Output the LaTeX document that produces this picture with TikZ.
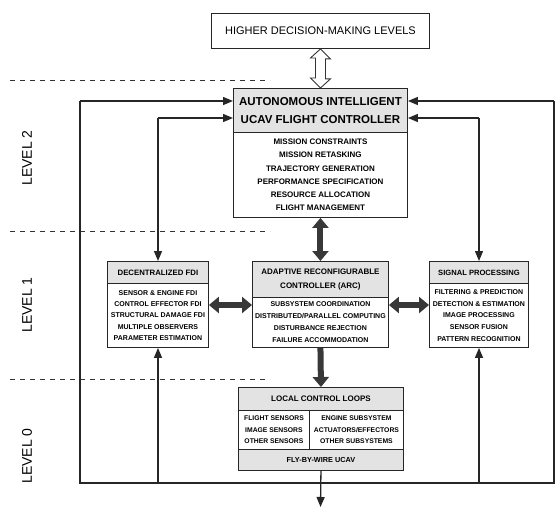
\documentclass[tikz,border=0pt]{standalone}
\usepackage{fontspec}
\setmainfont{Liberation Sans}
\usetikzlibrary{arrows.meta,calc}
\begin{document}
\begin{tikzpicture}[x=1pt,y=-1pt,
  box/.style={draw=black!85,line width=0.9pt,inner sep=0pt,anchor=north west,align=center},
  hdr/.style={box,fill=gray!22},
  wire/.style={draw=black!85,line width=1.3pt},
  arr/.style={wire,-{Triangle[length=10pt,width=8pt]}},
  bigtwo/.style={draw=black!78,line width=6pt,{Triangle[length=10pt,width=16pt]}-{Triangle[length=10pt,width=16pt]}},
  bigone/.style={draw=black!78,line width=6pt,-{Triangle[length=10pt,width=16pt]}},
  dashline/.style={draw=black!80,line width=1pt,dash pattern=on 5pt off 5pt},
  lvl/.style={rotate=90,font=\fontsize{14}{14}\selectfont},
  hollow/.style={draw=black!80,line width=0.9pt,fill=white}
]
\useasboundingbox (0,0) rectangle (556,511);

% dashed level separators
\draw[dashline] (10,80) -- (270,80);
\draw[dashline] (10,231) -- (270,231);
\draw[dashline] (10,379) -- (270,379);

% level labels
\node[lvl] (L2) at (27,158) {LEVEL 2};
\node[lvl] (L1) at (27,305) {LEVEL 1};
\node[lvl] (L0) at (27,456) {LEVEL 0};

% top box
\node[box,minimum width=218pt,minimum height=35pt,font=\fontsize{11}{11}\selectfont] (hd) at (211,13) {HIGHER DECISION-MAKING LEVELS};

% main controller
\node[hdr,minimum width=174pt,minimum height=44pt,font=\bfseries\fontsize{11.5}{18}\selectfont] (mainH) at (233,88) {AUTONOMOUS INTELLIGENT\\UCAV FLIGHT CONTROLLER};
\node[box,minimum width=174pt,minimum height=85pt,font=\bfseries\fontsize{8}{13.2}\selectfont] (mainB) at (233,132) {MISSION CONSTRAINTS\\MISSION RETASKING\\TRAJECTORY GENERATION\\PERFORMANCE SPECIFICATION\\RESOURCE ALLOCATION\\FLIGHT MANAGEMENT};

% decentralized FDI
\node[hdr,minimum width=101pt,minimum height=22pt,font=\bfseries\fontsize{7.8}{9}\selectfont] (fdiH) at (107,261) {DECENTRALIZED FDI};
\node[box,minimum width=101pt,minimum height=64pt,font=\bfseries\fontsize{7}{11.3}\selectfont] (fdiB) at (107,283) {SENSOR \& ENGINE FDI\\CONTROL EFFECTOR FDI\\STRUCTURAL DAMAGE FDI\\MULTIPLE OBSERVERS\\PARAMETER ESTIMATION};

% ARC
\node[hdr,minimum width=136pt,minimum height=36pt,font=\bfseries\fontsize{8}{14}\selectfont] (arcH) at (252,261) {ADAPTIVE RECONFIGURABLE\\CONTROLLER (ARC)};
\node[box,minimum width=136pt,minimum height=50pt,font=\bfseries\fontsize{7}{12}\selectfont] (arcB) at (252,297) {SUBSYSTEM COORDINATION\\DISTRIBUTED/PARALLEL COMPUTING\\DISTURBANCE REJECTION\\FAILURE ACCOMMODATION};

% signal processing
\node[hdr,minimum width=99pt,minimum height=22pt,font=\bfseries\fontsize{7.6}{9}\selectfont] (spH) at (429,261) {SIGNAL PROCESSING};
\node[box,minimum width=99pt,minimum height=64pt,font=\bfseries\fontsize{7}{11.8}\selectfont] (spB) at (429,283) {FILTERING \& PREDICTION\\DETECTION \& ESTIMATION\\IMAGE PROCESSING\\SENSOR FUSION\\PATTERN RECOGNITION};

% local control loops
\node[hdr,minimum width=165pt,minimum height=23pt,font=\bfseries\fontsize{8}{9}\selectfont] (locH) at (238,387) {LOCAL CONTROL LOOPS};
\node[box,minimum width=71pt,minimum height=39pt,font=\bfseries\fontsize{6.8}{11.5}\selectfont] (locL) at (238,410) {FLIGHT SENSORS\\IMAGE SENSORS\\OTHER SENSORS};
\node[box,minimum width=94pt,minimum height=39pt,font=\bfseries\fontsize{6.8}{11.5}\selectfont] (locR) at (309,410) {ENGINE SUBSYSTEM\\ACTUATORS/EFFECTORS\\OTHER SUBSYSTEMS};
\node[hdr,minimum width=165pt,minimum height=21pt,font=\bfseries\fontsize{7.3}{9}\selectfont] (locB) at (238,449) {FLY-BY-WIRE UCAV};

% hollow double arrow between top box and main controller
\draw[hollow] (hd.south) -- ++(10,10) -- ++(-5,0) -- ++(0,20) -- ++(5,0) -- (mainH.north) -- ++(-10,-10) -- ++(5,0) -- ++(0,-20) -- ++(-5,0) -- cycle;

% thick arrows
\coordinate (midrow) at (0,305);
\draw[bigtwo] (mainB.south) -- (arcH.north);
\draw[bigtwo] (fdiB.east |- midrow) -- (arcB.west |- midrow);
\draw[bigtwo] (arcB.east |- midrow) -- (spB.west |- midrow);
\draw[bigone] (arcB.south) -- (locH.north);

% feedback loop wiring
\coordinate (LT) at (80,101);
\coordinate (LB) at (80,483);
\coordinate (RB) at (554,483);
\coordinate (RT) at (554,101);
\coordinate (FT) at (158,118);
\coordinate (FB) at (158,483);
\coordinate (ST) at (479,118);
\coordinate (SB) at (479,483);
\coordinate (out) at (320.5,507);

\draw[wire] (LT) -- (LB) -- (RB) -- (RT);
\draw[arr] (LT) -- (LT -| mainH.west);
\draw[arr] (RT) -- (RT -| mainH.east);
\draw[arr] (FT) -- (FT -| mainH.west);
\draw[arr] (ST) -- (ST -| mainH.east);
\draw[arr] (FT) -- (fdiH.north -| FT);
\draw[arr] (ST) -- (spH.north -| ST);
\draw[arr] (FB) -- (fdiB.south -| FB);
\draw[arr] (SB) -- (spB.south -| SB);
\draw[arr] (locB.south) -- (out);
\end{tikzpicture}
\end{document}
